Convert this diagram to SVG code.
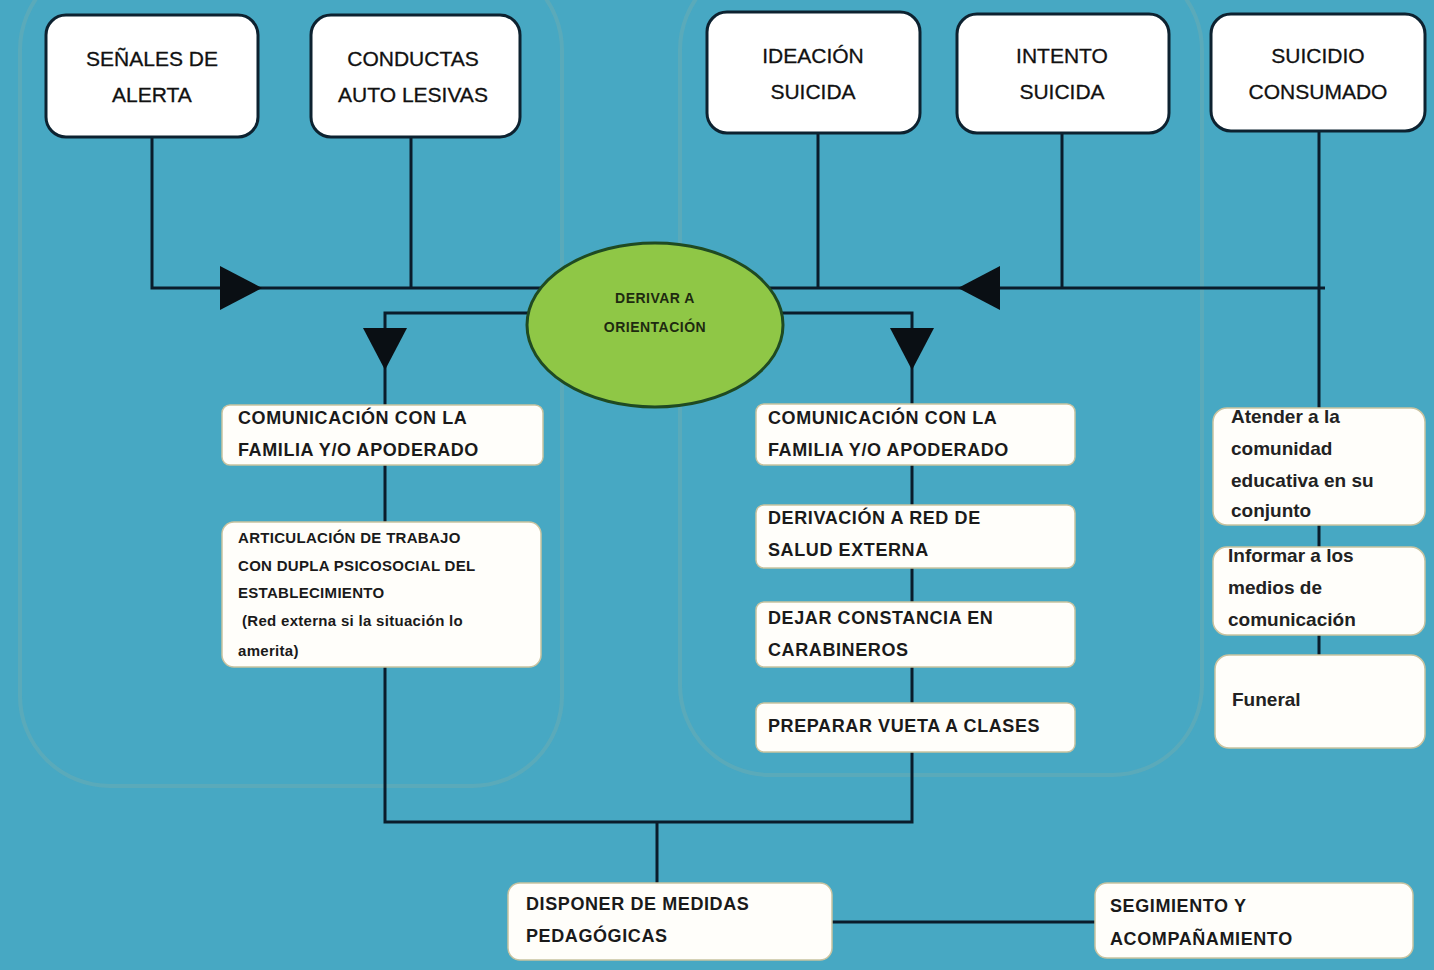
<svg xmlns="http://www.w3.org/2000/svg" xmlns:xlink="http://www.w3.org/1999/xlink" width="1434" height="970" viewBox="0 0 1434 970">
<style>
.panel{fill:none;stroke:#62abb6;stroke-width:4;opacity:0.7}
.top{fill:#ffffff;stroke:#0d2230;stroke-width:3}
.box{fill:#fffefa;stroke:#c9c3a0;stroke-width:1.5}
.ln{fill:none;stroke:#0a1c2b;stroke-width:3}
.tt{font-family:"Liberation Sans",Arial,sans-serif;font-size:21px;fill:#111111;text-anchor:middle;stroke:#111111;stroke-width:0.3}
.bt{font-family:"Liberation Sans",Arial,sans-serif;font-size:18px;font-weight:bold;fill:#1a1a1a;letter-spacing:0.6px}
.st{font-family:"Liberation Sans",Arial,sans-serif;font-size:15px;font-weight:bold;fill:#1a1a1a;letter-spacing:0.3px}
.rt{font-family:"Liberation Sans",Arial,sans-serif;font-size:19px;font-weight:bold;fill:#222222}
.et{font-family:"Liberation Sans",Arial,sans-serif;font-size:14px;font-weight:bold;fill:#1e2a10;text-anchor:middle;letter-spacing:0.5px}
</style>
<defs>
<path id="tri" d="M0,-22 L42,0 L0,22 Z" fill="#0a0f14"/>
</defs>
<rect x="0" y="0" width="1434" height="970" fill="#47a8c3"/>
<g id="panels">
<rect class="panel" x="20" y="-40" width="542" height="826" rx="90"/>
<rect class="panel" x="680" y="-40" width="522" height="815" rx="90"/>
</g>
<g id="connectors">
<path class="ln" d="M152,137 V288 H545"/>
<path class="ln" d="M411,137 V288"/>
<path class="ln" d="M818,133 V288"/>
<path class="ln" d="M1062,133 V288"/>
<path class="ln" d="M770,288 H1325"/>
<path class="ln" d="M1319,131 V655"/>
<path class="ln" d="M540,313 H385 V822 H912 V313 H770"/>
<path class="ln" d="M657,822 V883"/>
<path class="ln" d="M832,922 H1095"/>
<use xlink:href="#tri" transform="translate(220,288)"/>
<use xlink:href="#tri" transform="translate(1000,288) rotate(180)"/>
<use xlink:href="#tri" transform="translate(385,328) rotate(90)"/>
<use xlink:href="#tri" transform="translate(912,328) rotate(90)"/>
</g>
<g id="n-senales">
<rect class="top" x="46" y="15" width="212" height="122" rx="20"/>
<text class="tt" x="152" y="66">SEÑALES DE</text>
<text class="tt" x="152" y="102">ALERTA</text>
</g>
<g id="n-conductas">
<rect class="top" x="311" y="15" width="209" height="122" rx="20"/>
<text class="tt" x="413" y="66">CONDUCTAS</text>
<text class="tt" x="413" y="102">AUTO LESIVAS</text>
</g>
<g id="n-ideacion">
<rect class="top" x="707" y="12" width="213" height="121" rx="20"/>
<text class="tt" x="813" y="63">IDEACIÓN</text>
<text class="tt" x="813" y="99">SUICIDA</text>
</g>
<g id="n-intento">
<rect class="top" x="957" y="14" width="212" height="119" rx="20"/>
<text class="tt" x="1062" y="63">INTENTO</text>
<text class="tt" x="1062" y="99">SUICIDA</text>
</g>
<g id="n-suicidio">
<rect class="top" x="1211" y="14" width="214" height="117" rx="20"/>
<text class="tt" x="1318" y="63">SUICIDIO</text>
<text class="tt" x="1318" y="99">CONSUMADO</text>
</g>
<g id="n-derivar">
<ellipse cx="655" cy="325" rx="128" ry="82" fill="#8fc746" stroke="#1f4a22" stroke-width="3"/>
<text class="et" x="655" y="303">DERIVAR  A</text>
<text class="et" x="655" y="332">ORIENTACIÓN</text>
</g>
<g id="n-com-left">
<rect class="box" x="222" y="405" width="321" height="60" rx="8"/>
<text class="bt" x="238" y="424">COMUNICACIÓN  CON LA</text>
<text class="bt" x="238" y="456">FAMILIA Y/O APODERADO</text>
</g>
<g id="n-articulacion">
<rect class="box" x="222" y="522" width="319" height="145" rx="12"/>
<text class="st" x="238" y="543">ARTICULACIÓN  DE TRABAJO</text>
<text class="st" x="238" y="571">CON DUPLA PSICOSOCIAL  DEL</text>
<text class="st" x="238" y="598">ESTABLECIMIENTO</text>
<text class="st" x="242" y="626">(Red externa si la situación lo</text>
<text class="st" x="238" y="656">amerita)</text>
</g>
<g id="n-com-right">
<rect class="box" x="756" y="404" width="319" height="61" rx="8"/>
<text class="bt" x="768" y="424">COMUNICACIÓN  CON LA</text>
<text class="bt" x="768" y="456">FAMILIA Y/O APODERADO</text>
</g>
<g id="n-derivacion">
<rect class="box" x="756" y="505" width="319" height="63" rx="8"/>
<text class="bt" x="768" y="524">DERIVACIÓN A RED DE</text>
<text class="bt" x="768" y="556">SALUD EXTERNA</text>
</g>
<g id="n-constancia">
<rect class="box" x="756" y="602" width="319" height="65" rx="8"/>
<text class="bt" x="768" y="624">DEJAR CONSTANCIA EN</text>
<text class="bt" x="768" y="656">CARABINEROS</text>
</g>
<g id="n-preparar">
<rect class="box" x="756" y="703" width="319" height="49" rx="8"/>
<text class="bt" x="768" y="732">PREPARAR VUETA A CLASES</text>
</g>
<g id="n-atender">
<rect class="box" x="1213" y="408" width="212" height="117" rx="14"/>
<text class="rt" x="1231" y="423">Atender a la</text>
<text class="rt" x="1231" y="455">comunidad</text>
<text class="rt" x="1231" y="487">educativa en su</text>
<text class="rt" x="1231" y="517">conjunto</text>
</g>
<g id="n-informar">
<rect class="box" x="1213" y="547" width="212" height="88" rx="14"/>
<text class="rt" x="1228" y="562">Informar a los</text>
<text class="rt" x="1228" y="594">medios de</text>
<text class="rt" x="1228" y="626">comunicación</text>
</g>
<g id="n-funeral">
<rect class="box" x="1215" y="655" width="210" height="93" rx="14"/>
<text class="rt" x="1232" y="706">Funeral</text>
</g>
<g id="n-disponer">
<rect class="box" x="508" y="883" width="324" height="77" rx="12"/>
<text class="bt" x="526" y="910">DISPONER DE MEDIDAS</text>
<text class="bt" x="526" y="942">PEDAGÓGICAS</text>
</g>
<g id="n-seguimiento">
<rect class="box" x="1095" y="883" width="318" height="75" rx="12"/>
<text class="bt" x="1110" y="912">SEGIMIENTO Y</text>
<text class="bt" x="1110" y="945">ACOMPAÑAMIENTO</text>
</g>
</svg>
